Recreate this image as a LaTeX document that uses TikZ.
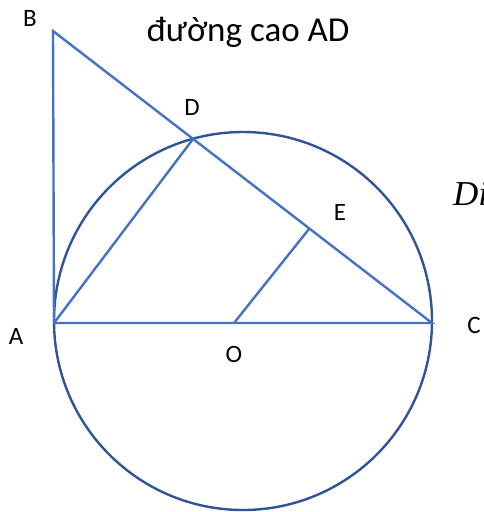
\documentclass[tikz,border=0pt]{standalone}
\usepackage{fontspec}
\setmainfont{Carlito}
\newfontfamily\difont{Liberation Serif}
\begin{document}
\begin{tikzpicture}[x=1pt,y=-1pt,
  seg/.style={draw=lineblue,line width=2.4pt},
  circ/.style={draw=circblue,line width=2.4pt},
  lbl/.style={inner sep=0pt,font=\fontsize{25}{30}\selectfont}]
\definecolor{lineblue}{HTML}{4472C4}
\definecolor{circblue}{HTML}{2F5597}
\useasboundingbox (0,0) rectangle (483,512);
\coordinate (B) at (53,31);
\coordinate (A) at (54,323);
\coordinate (C) at (432,323);
\coordinate (D) at (193,139);
\coordinate (E) at (309,229);
\coordinate (O) at (234,323);
\coordinate (Oc) at (243,321);
\draw[circ] (Oc) circle[radius=189];
\draw[seg] (B) -- (A) -- (C) -- cycle;
\draw[seg] (A) -- (D);
\draw[seg] (O) -- (E);
\node[lbl] (lB) at (30,18) {B};
\node[lbl] (lD) at (192,107) {D};
\node[lbl] (lE) at (340,212) {E};
\node[lbl] (lC) at (474,325) {C};
\node[lbl] (lO) at (234,354) {O};
\node[lbl] (lA) at (16,336) {A};
\node[inner sep=0pt,font=\fontsize{35}{42}\selectfont] (title) at (248,32) {đường cao AD};
\node[inner sep=0pt,anchor=base west,font=\difont\itshape\fontsize{35}{42}\selectfont] (di) at (453,205) {Di};
\end{tikzpicture}
\end{document}
